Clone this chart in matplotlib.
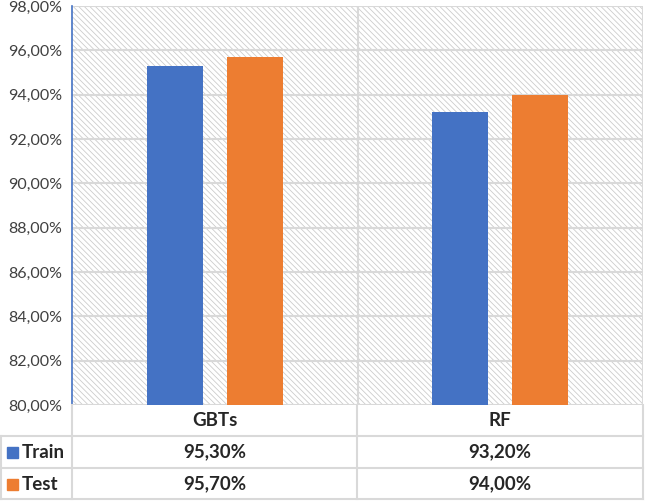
import matplotlib.pyplot as plt
from matplotlib.patches import Rectangle
from matplotlib.lines import Line2D

models = ['GBTs', 'RF']
train = [95.30, 93.20]
test = [95.70, 94.00]
series = ['Train', 'Test']
colors = ['#4472C4', '#ED7D31']
yticks = [80, 82, 84, 86, 88, 90, 92, 94, 96, 98]

plt.rcParams['font.family'] = ['Lato', 'DejaVu Sans']
plt.rcParams['hatch.linewidth'] = 0.6
plt.rcParams['hatch.color'] = '#cccccc'

W, H = 645, 501
fig = plt.figure(figsize=(W / 100, H / 100), dpi=100)
x0, x1, ytop, ybot = 72, 643, 6, 405
ax = fig.add_axes([x0 / W, 1 - ybot / H, (x1 - x0) / W, (ybot - ytop) / H])

# hatched background
ax.add_patch(Rectangle((0, 0), 1, 1, transform=ax.transAxes, facecolor='white',
                       edgecolor='#cccccc', hatch='\\' * 6, linewidth=0, zorder=0))

bw = 0.195
off = 0.14
for i, m in enumerate(models):
    ax.bar(i - off, train[i] - 80, bottom=80, width=bw, color=colors[0], zorder=3)
    ax.bar(i + off, test[i] - 80, bottom=80, width=bw, color=colors[1], zorder=3)

ax.set_xlim(-0.5, 1.5)
ax.set_ylim(80, 98)
ax.set_yticks(yticks)
ax.set_yticklabels([f'{v:.2f}'.replace('.', ',') + '%' for v in yticks],
                   fontsize=11.5, color='#404040')
ax.set_xticks([])
ax.tick_params(axis='y', length=0, pad=7)
for y in yticks:
    ax.axhline(y, color='#d9d9d9', linewidth=1.5, zorder=1)
ax.axvline(0.5, color='#d9d9d9', linewidth=1.5, zorder=1)
ax.axvline(1.5, color='#d9d9d9', linewidth=1.5, zorder=1)
for s in ['top', 'right', 'bottom']:
    ax.spines[s].set_visible(False)
ax.spines['left'].set_color('#4472C4')
ax.spines['left'].set_linewidth(1.2)

# data table below the plot
def fx(px):
    return px / W

def fy(py):
    return 1 - py / H

grid = '#d9d9d9'
rows = [405, 436, 468, 499]
xdiv = 357
for r in rows[1:]:
    fig.add_artist(Line2D([fx(0), fx(x1)], [fy(r), fy(r)], color=grid, lw=1.5))
fig.add_artist(Line2D([fx(x0), fx(x0)], [fy(405), fy(499)], color=grid, lw=1.5))
fig.add_artist(Line2D([fx(xdiv), fx(xdiv)], [fy(405), fy(499)], color=grid, lw=1.5))
fig.add_artist(Line2D([fx(x1), fx(x1)], [fy(405), fy(499)], color=grid, lw=1.5))
fig.add_artist(Line2D([fx(1), fx(1)], [fy(436), fy(499)], color=grid, lw=1.5))

centers = [(x0 + xdiv) / 2, (xdiv + x1) / 2]
for i, m in enumerate(models):
    fig.text(fx(centers[i]), fy(421), m, ha='center', va='center',
             fontsize=13.5, fontweight='bold', color='#262626')
    fig.text(fx(centers[i]), fy(452), f'{train[i]:.2f}'.replace('.', ',') + '%',
             ha='center', va='center', fontsize=13.5, fontweight='bold', color='#262626')
    fig.text(fx(centers[i]), fy(484), f'{test[i]:.2f}'.replace('.', ',') + '%',
             ha='center', va='center', fontsize=13.5, fontweight='bold', color='#262626')

for j, (name, c) in enumerate(zip(series, colors)):
    yc = [452, 484][j]
    fig.add_artist(Rectangle((fx(7), fy(yc + 6)), 11 / W, 11 / H, color=c))
    fig.text(fx(21.5), fy(yc), name, ha='left', va='center', fontsize=13.5,
             fontweight='bold', color='#262626')

fig.savefig('out.png', dpi=100)
